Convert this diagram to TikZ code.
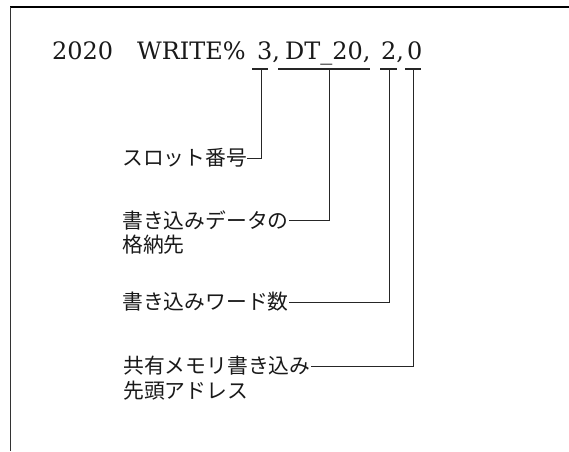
\documentclass[tikz,border=0pt]{standalone}
\usepackage{fontspec}
\setmainfont{DejaVu Serif}
\newfontfamily\jpfont{Noto Sans CJK JP}
\begin{document}
\begin{tikzpicture}[x=1pt,y=-1pt,
  code/.style={anchor=base west,inner sep=0pt,font=\fontsize{24}{29}\selectfont,text=black!90},
  lbl/.style={anchor=west,inner sep=0pt,font=\jpfont\fontsize{20.8}{24}\selectfont,text=black!90},
  tick/.style={line width=1.1pt,black!85},
  conn/.style={line width=1pt,black!85},
  frame/.style={black}]
\useasboundingbox (0,0) rectangle (569,451);
% frame
\draw[frame,line width=2pt] (10,7) -- (569,7);
\draw[frame,line width=0.9pt,black!80] (10,7) -- (10,451);
% code line
\node[code] (num) at (52,59) {2020};
\node[code] (cmd) at (137,59) {WRITE\%};
\node[code] (a1) at (257,59) {3,};
\node[code] (a2) at (285,59) {DT\_20,};
\node[code] (a3) at (381,59) {2,};
\node[code] (a4) at (407,59) {0};
% tick coordinates
\coordinate (t1l) at (252,69); \coordinate (t1r) at (268,69); \coordinate (t1) at (261,69);
\coordinate (t2l) at (278,69); \coordinate (t2r) at (370,69); \coordinate (t2) at (329,69);
\coordinate (t3l) at (380,69); \coordinate (t3r) at (397,69); \coordinate (t3) at (389,69);
\coordinate (t4l) at (405,69); \coordinate (t4r) at (421,69); \coordinate (t4) at (413,69);
\draw[tick] (t1l) -- (t1r);
\draw[tick] (t2l) -- (t2r);
\draw[tick] (t3l) -- (t3r);
\draw[tick] (t4l) -- (t4r);
% labels
\node[lbl] (slot) at (122,158) {スロット番号};
\node[lbl] (dataA) at (122,220) {書き込みデータの};
\node[lbl] (dataB) at (122,245) {格納先};
\node[lbl] (words) at (122,302) {書き込みワード数};
\node[lbl] (addrA) at (123,366) {共有メモリ書き込み};
\node[lbl] (addrB) at (123,391) {先頭アドレス};
% connectors
\draw[conn] (t1) |- (slot.east);
\draw[conn] (t2) |- (dataA.east);
\draw[conn] (t3) |- (words.east);
\draw[conn] (t4) |- (addrA.east);
\end{tikzpicture}
\end{document}
